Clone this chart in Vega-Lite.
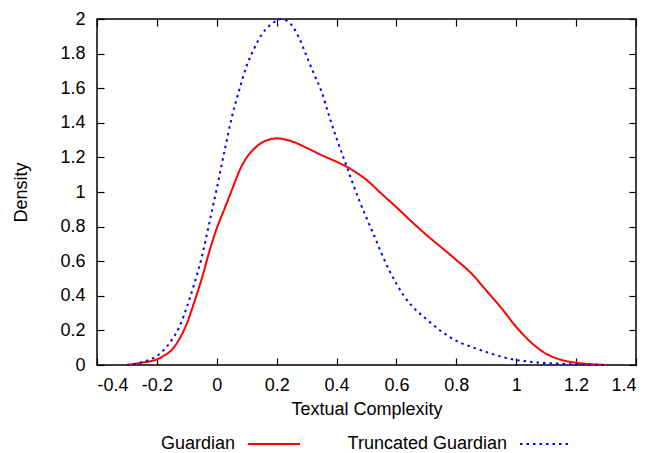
{
  "$schema": "https://vega.github.io/schema/vega-lite/v6.json",
  "width": 539,
  "height": 346,
  "autosize": {"type": "none"},
  "padding": {"left": 97, "top": 19, "right": 17, "bottom": 88},
  "background": "white",
  "config": {
    "font": "Liberation Sans",
    "view": {"stroke": "black", "strokeWidth": 1.5},
    "axis": {
      "domain": false, "grid": false,
      "tickColor": "black", "tickSize": -7, "tickWidth": 1.2,
      "labelColor": "black", "labelFont": "Liberation Sans", "labelFontSize": 18,
      "titleFont": "Liberation Sans", "titleFontSize": 18, "titleFontWeight": "normal", "titleColor": "black"
    },
    "legend": {
      "orient": "none", "legendX": 150, "legendY": 398, "direction": "horizontal",
      "symbolType": "stroke", "symbolSize": 2704, "symbolStrokeWidth": 2,
      "labelAlign": "right", "labelOffset": -66, "labelFontSize": 18, "labelFont": "Liberation Sans", "labelColor": "black",
      "columnPadding": 43, "padding": 0, "title": null
    }
  },
  "data": {"values": [
    {"x": -0.3, "d": 0, "s": "Guardian"},
    {"x": -0.25, "d": 0.014, "s": "Guardian"},
    {"x": -0.2, "d": 0.032, "s": "Guardian"},
    {"x": -0.175, "d": 0.055, "s": "Guardian"},
    {"x": -0.15, "d": 0.088, "s": "Guardian"},
    {"x": -0.125, "d": 0.15, "s": "Guardian"},
    {"x": -0.1, "d": 0.24, "s": "Guardian"},
    {"x": -0.075, "d": 0.365, "s": "Guardian"},
    {"x": -0.05, "d": 0.5, "s": "Guardian"},
    {"x": -0.025, "d": 0.655, "s": "Guardian"},
    {"x": 0, "d": 0.79, "s": "Guardian"},
    {"x": 0.025, "d": 0.9, "s": "Guardian"},
    {"x": 0.05, "d": 1.01, "s": "Guardian"},
    {"x": 0.075, "d": 1.12, "s": "Guardian"},
    {"x": 0.1, "d": 1.2, "s": "Guardian"},
    {"x": 0.125, "d": 1.25, "s": "Guardian"},
    {"x": 0.15, "d": 1.285, "s": "Guardian"},
    {"x": 0.175, "d": 1.303, "s": "Guardian"},
    {"x": 0.2, "d": 1.31, "s": "Guardian"},
    {"x": 0.225, "d": 1.305, "s": "Guardian"},
    {"x": 0.25, "d": 1.293, "s": "Guardian"},
    {"x": 0.3, "d": 1.255, "s": "Guardian"},
    {"x": 0.35, "d": 1.213, "s": "Guardian"},
    {"x": 0.4, "d": 1.175, "s": "Guardian"},
    {"x": 0.45, "d": 1.13, "s": "Guardian"},
    {"x": 0.5, "d": 1.07, "s": "Guardian"},
    {"x": 0.55, "d": 0.99, "s": "Guardian"},
    {"x": 0.6, "d": 0.912, "s": "Guardian"},
    {"x": 0.65, "d": 0.83, "s": "Guardian"},
    {"x": 0.7, "d": 0.752, "s": "Guardian"},
    {"x": 0.75, "d": 0.68, "s": "Guardian"},
    {"x": 0.8, "d": 0.607, "s": "Guardian"},
    {"x": 0.85, "d": 0.53, "s": "Guardian"},
    {"x": 0.9, "d": 0.43, "s": "Guardian"},
    {"x": 0.95, "d": 0.33, "s": "Guardian"},
    {"x": 1.0, "d": 0.22, "s": "Guardian"},
    {"x": 1.05, "d": 0.13, "s": "Guardian"},
    {"x": 1.1, "d": 0.065, "s": "Guardian"},
    {"x": 1.15, "d": 0.03, "s": "Guardian"},
    {"x": 1.2, "d": 0.013, "s": "Guardian"},
    {"x": 1.25, "d": 0.005, "s": "Guardian"},
    {"x": 1.3, "d": 0, "s": "Guardian"},
    {"x": -0.3, "d": 0, "s": "Truncated Guardian"},
    {"x": -0.25, "d": 0.016, "s": "Truncated Guardian"},
    {"x": -0.2, "d": 0.052, "s": "Truncated Guardian"},
    {"x": -0.175, "d": 0.09, "s": "Truncated Guardian"},
    {"x": -0.15, "d": 0.145, "s": "Truncated Guardian"},
    {"x": -0.125, "d": 0.22, "s": "Truncated Guardian"},
    {"x": -0.1, "d": 0.335, "s": "Truncated Guardian"},
    {"x": -0.075, "d": 0.47, "s": "Truncated Guardian"},
    {"x": -0.05, "d": 0.625, "s": "Truncated Guardian"},
    {"x": -0.025, "d": 0.82, "s": "Truncated Guardian"},
    {"x": 0, "d": 1.02, "s": "Truncated Guardian"},
    {"x": 0.025, "d": 1.23, "s": "Truncated Guardian"},
    {"x": 0.05, "d": 1.43, "s": "Truncated Guardian"},
    {"x": 0.075, "d": 1.59, "s": "Truncated Guardian"},
    {"x": 0.1, "d": 1.73, "s": "Truncated Guardian"},
    {"x": 0.125, "d": 1.83, "s": "Truncated Guardian"},
    {"x": 0.15, "d": 1.91, "s": "Truncated Guardian"},
    {"x": 0.175, "d": 1.96, "s": "Truncated Guardian"},
    {"x": 0.2, "d": 1.99, "s": "Truncated Guardian"},
    {"x": 0.215, "d": 2.0, "s": "Truncated Guardian"},
    {"x": 0.25, "d": 1.965, "s": "Truncated Guardian"},
    {"x": 0.275, "d": 1.89, "s": "Truncated Guardian"},
    {"x": 0.3, "d": 1.785, "s": "Truncated Guardian"},
    {"x": 0.325, "d": 1.68, "s": "Truncated Guardian"},
    {"x": 0.35, "d": 1.58, "s": "Truncated Guardian"},
    {"x": 0.375, "d": 1.44, "s": "Truncated Guardian"},
    {"x": 0.4, "d": 1.31, "s": "Truncated Guardian"},
    {"x": 0.425, "d": 1.19, "s": "Truncated Guardian"},
    {"x": 0.45, "d": 1.07, "s": "Truncated Guardian"},
    {"x": 0.475, "d": 0.955, "s": "Truncated Guardian"},
    {"x": 0.5, "d": 0.85, "s": "Truncated Guardian"},
    {"x": 0.525, "d": 0.75, "s": "Truncated Guardian"},
    {"x": 0.55, "d": 0.645, "s": "Truncated Guardian"},
    {"x": 0.575, "d": 0.55, "s": "Truncated Guardian"},
    {"x": 0.6, "d": 0.47, "s": "Truncated Guardian"},
    {"x": 0.625, "d": 0.4, "s": "Truncated Guardian"},
    {"x": 0.65, "d": 0.345, "s": "Truncated Guardian"},
    {"x": 0.7, "d": 0.265, "s": "Truncated Guardian"},
    {"x": 0.75, "d": 0.195, "s": "Truncated Guardian"},
    {"x": 0.8, "d": 0.14, "s": "Truncated Guardian"},
    {"x": 0.85, "d": 0.105, "s": "Truncated Guardian"},
    {"x": 0.9, "d": 0.075, "s": "Truncated Guardian"},
    {"x": 0.95, "d": 0.048, "s": "Truncated Guardian"},
    {"x": 1.0, "d": 0.029, "s": "Truncated Guardian"},
    {"x": 1.05, "d": 0.018, "s": "Truncated Guardian"},
    {"x": 1.1, "d": 0.011, "s": "Truncated Guardian"},
    {"x": 1.15, "d": 0.007, "s": "Truncated Guardian"},
    {"x": 1.2, "d": 0.004, "s": "Truncated Guardian"},
    {"x": 1.25, "d": 0.002, "s": "Truncated Guardian"},
    {"x": 1.3, "d": 0, "s": "Truncated Guardian"}
  ]},
  "layer": [
    {
      "mark": {"type": "line", "strokeWidth": 2, "interpolate": "monotone"},
      "encoding": {
        "x": {"field": "x", "type": "quantitative",
          "scale": {"domain": [-0.4, 1.4], "nice": false, "zero": false},
          "axis": {"orient": "bottom", "values": [-0.4, -0.2, 0, 0.2, 0.4, 0.6, 0.8, 1, 1.2, 1.4],
            "labelExpr": "'' + datum.value", "labelPadding": 18, "titlePadding": 6, "title": "Textual Complexity"}},
        "y": {"field": "d", "type": "quantitative",
          "scale": {"domain": [0, 2], "nice": false},
          "axis": {"orient": "left", "values": [0, 0.2, 0.4, 0.6, 0.8, 1, 1.2, 1.4, 1.6, 1.8, 2],
            "labelExpr": "'' + datum.value", "labelPadding": 19, "titlePadding": 29, "title": "Density"}},
        "color": {"field": "s", "type": "nominal",
          "scale": {"domain": ["Guardian", "Truncated Guardian"], "range": ["#ff0000", "#0000ff"]}},
        "strokeDash": {"field": "s", "type": "nominal",
          "scale": {"domain": ["Guardian", "Truncated Guardian"], "range": [[1, 0], [2.5, 4]]}}
      }
    },
    {
      "mark": {"type": "line", "strokeOpacity": 0},
      "encoding": {
        "x": {"field": "x", "type": "quantitative",
          "axis": {"orient": "top", "values": [-0.4, -0.2, 0, 0.2, 0.4, 0.6, 0.8, 1, 1.2, 1.4], "labels": false, "title": null}},
        "y": {"field": "d", "type": "quantitative",
          "axis": {"orient": "right", "values": [0, 0.2, 0.4, 0.6, 0.8, 1, 1.2, 1.4, 1.6, 1.8, 2], "labels": false, "title": null}},
        "detail": {"field": "s"}
      }
    }
  ],
  "resolve": {"axis": {"x": "independent", "y": "independent"}}
}
